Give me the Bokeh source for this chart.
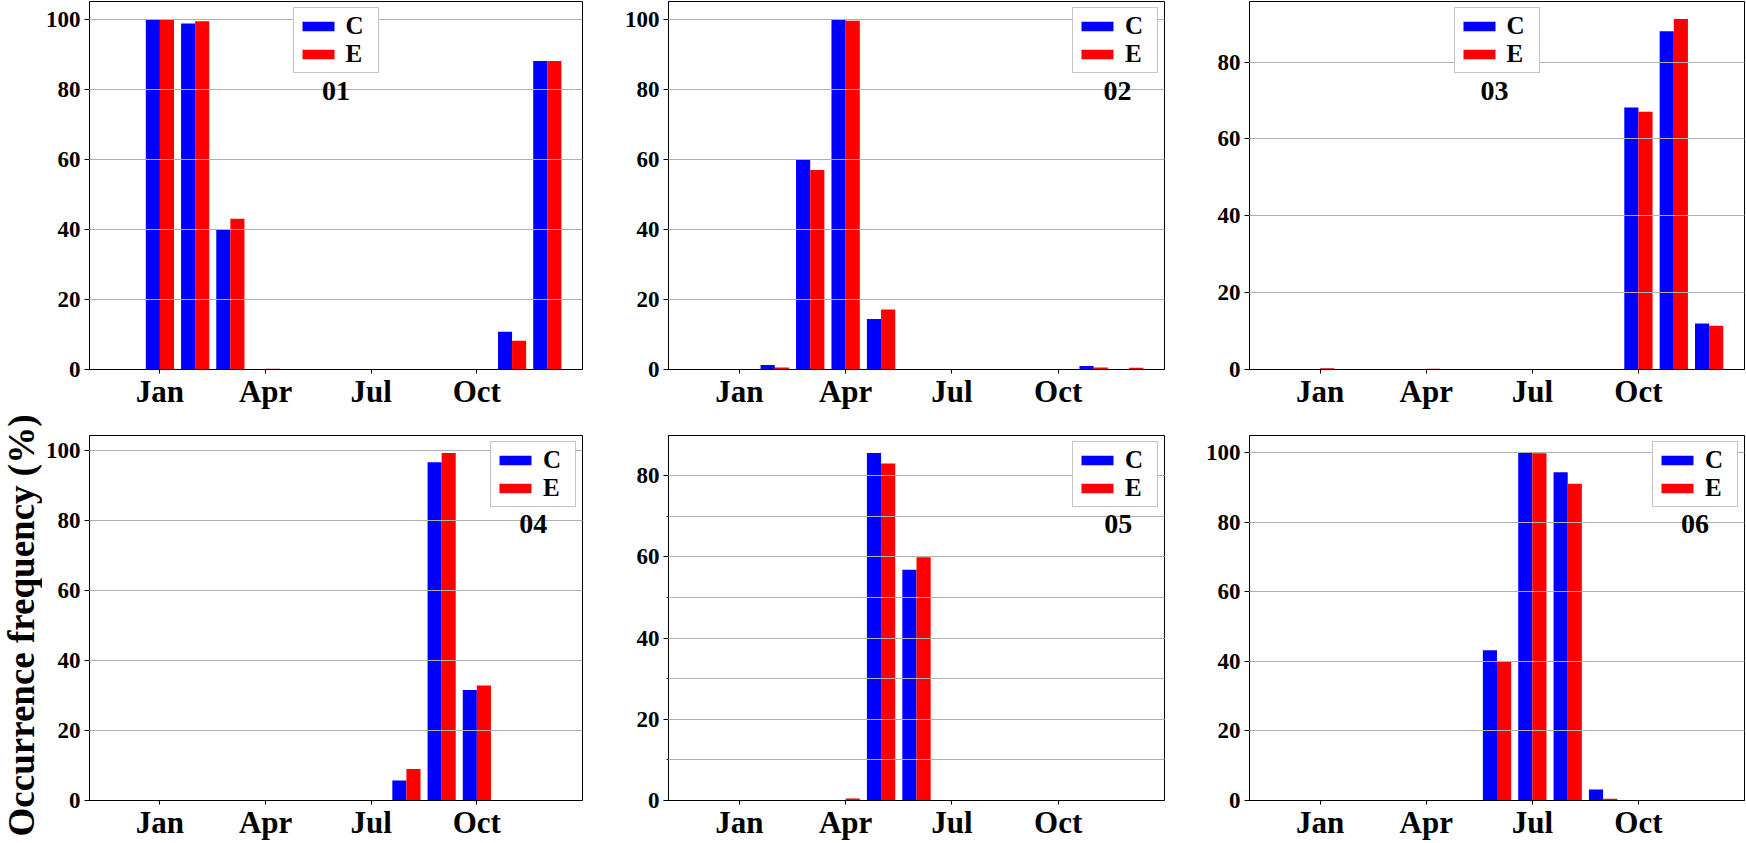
import math
from bokeh.plotting import figure
from bokeh.layouts import row, column
from bokeh.models import (Range1d, FixedTicker, SingleIntervalTicker, Label,
                          Legend, LegendItem, ColumnDataSource)
from bokeh.transform import dodge
from bokeh.embed import file_html
from bokeh.resources import INLINE

# ---------------- data ----------------
months = list(range(1, 13))
month_ticks = [1, 4, 7, 10]
month_tick_labels = ["Jan", "Apr", "Jul", "Oct"]
series_names = ["C", "E"]
series_colors = ["#0000ff", "#ff0000"]
panel_names = ["01", "02", "03", "04", "05", "06"]
y_title = "Occurrence frequency (%)"

c_01 = [100.0, 98.7, 40.0, 0, 0, 0, 0, 0, 0, 0, 10.8, 88.0]
e_01 = [99.8, 99.4, 43.0, 0.2, 0, 0, 0, 0, 0, 0, 8.2, 88.0]

c_02 = [0, 1.3, 59.8, 100.0, 14.4, 0, 0, 0, 0, 0, 1.0, 0]
e_02 = [0, 0.6, 56.9, 99.5, 17.1, 0, 0, 0, 0, 0, 0.6, 0.5]

c_03 = [0, 0, 0, 0, 0, 0, 0, 0, 0, 68.2, 88.0, 12.0]
e_03 = [0.3, 0, 0, 0.2, 0, 0, 0, 0, 0, 67.1, 91.2, 11.4]

c_04 = [0, 0, 0, 0, 0, 0, 0, 5.7, 96.7, 31.6, 0, 0]
e_04 = [0, 0, 0, 0, 0, 0, 0, 9.0, 99.4, 32.9, 0, 0]

c_05 = [0, 0, 0, 0.1, 85.6, 56.8, 0, 0, 0, 0.1, 0, 0]
e_05 = [0, 0, 0, 0.5, 83.0, 59.9, 0, 0, 0, 0, 0, 0]

c_06 = [0, 0, 0, 0, 0, 43.2, 100.0, 94.4, 3.2, 0, 0, 0]
e_06 = [0, 0, 0, 0, 0, 40.0, 99.9, 91.1, 0.5, 0, 0, 0]

panel_c = [c_01, c_02, c_03, c_04, c_05, c_06]
panel_e = [e_01, e_02, e_03, e_04, e_05, e_06]

# ---------------- layout / style ----------------
FONT = "Liberation Serif"
YLAB_W = 42
TOTAL_H = 842
col_w = [618 - YLAB_W, 581, 546]
col_bl = [87 - YLAB_W, 50, 50]
col_br = [36, 35, 1]
row_h = [433, 409]
row_bt = [1, 2]
row_bb = [64, 39]
legend_locs = ["top_center", "top_right", "top_center", "top_right", "top_right", "top_right"]
label_fx = [0.5, 0.905, 0.495, 0.9, 0.907, 0.9]
label_fy = 0.757
minor_grid = [False, False, False, False, True, False]
X0, X1 = -1, 13


def make_panel(i):
    r, c = divmod(i, 3)
    cv, ev = panel_c[i], panel_e[i]
    ytop = 1.05 * max(cv + ev)
    p = figure(width=col_w[c], height=row_h[r], output_backend="svg",
               toolbar_location=None,
               x_range=Range1d(X0, X1), y_range=Range1d(0, ytop),
               min_border_left=col_bl[c], min_border_right=col_br[c],
               min_border_top=row_bt[r], min_border_bottom=row_bb[r])
    src = ColumnDataSource(dict(month=months, C=cv, E=ev))
    r1 = p.vbar(x=dodge("month", -0.2), top="C", width=0.4, source=src,
                fill_color=series_colors[0], line_color=None)
    r2 = p.vbar(x=dodge("month", 0.2), top="E", width=0.4, source=src,
                fill_color=series_colors[1], line_color=None)

    p.outline_line_color = "black"
    p.outline_line_width = 1
    p.background_fill_color = "white"

    # x axis
    p.xaxis.ticker = FixedTicker(ticks=month_ticks)
    p.xaxis.major_label_overrides = {t: l for t, l in zip(month_ticks, month_tick_labels)}
    p.xaxis.major_label_text_font = FONT
    p.xaxis.major_label_text_font_style = "bold"
    p.xaxis.major_label_text_font_size = "31px"
    p.xaxis.major_label_text_color = "black"
    p.xaxis.major_tick_out = 4
    p.xaxis.major_tick_in = 0
    p.xaxis.minor_tick_line_color = None
    p.xaxis.major_label_standoff = 0
    p.xaxis.axis_line_color = "black"

    # y axis
    p.yaxis.ticker = SingleIntervalTicker(interval=20, num_minor_ticks=2 if minor_grid[i] else 0)
    p.yaxis.major_label_text_font = FONT
    p.yaxis.major_label_text_font_style = "bold"
    p.yaxis.major_label_text_font_size = "23px"
    p.yaxis.major_label_text_color = "black"
    p.yaxis.major_tick_out = 5
    p.yaxis.major_tick_in = 0
    p.yaxis.major_label_standoff = 4
    p.yaxis.axis_line_color = "black"
    if minor_grid[i]:
        p.yaxis.minor_tick_out = 2
        p.yaxis.minor_tick_in = 0
        p.ygrid.minor_grid_line_color = "#b0b0b0"
        p.ygrid.minor_grid_line_width = 1
    else:
        p.yaxis.minor_tick_line_color = None

    p.xgrid.visible = False
    p.ygrid.grid_line_color = "#b0b0b0"
    p.ygrid.grid_line_width = 1
    p.ygrid.level = "guide"

    legend = Legend(items=[LegendItem(label=series_names[0], renderers=[r1]),
                           LegendItem(label=series_names[1], renderers=[r2])],
                    location=legend_locs[i])
    legend.label_text_font = FONT
    legend.label_text_font_style = "bold"
    legend.label_text_font_size = "25px"
    legend.label_text_color = "black"
    legend.glyph_width = 40
    legend.glyph_height = 12
    legend.label_standoff = 8
    legend.label_width = 28
    legend.padding = 4
    legend.spacing = 0
    legend.margin = 6
    legend.border_line_color = "#8c8c8c"
    legend.border_line_width = 1
    legend.background_fill_alpha = 1.0
    p.add_layout(legend)

    lab = Label(x=X0 + label_fx[i] * (X1 - X0), y=label_fy * ytop,
                text=panel_names[i], text_align="center", text_baseline="middle",
                text_font=FONT, text_font_style="bold", text_font_size="28px",
                text_color="black")
    p.add_layout(lab)
    return p


panels = [make_panel(i) for i in range(6)]

# shared y-axis title in its own narrow canvas (pixel coordinates)
ylab_fig = figure(width=YLAB_W, height=TOTAL_H, output_backend="svg",
                  toolbar_location=None, x_axis_location=None, y_axis_location=None,
                  x_range=Range1d(0, YLAB_W), y_range=Range1d(0, TOTAL_H),
                  min_border_left=0, min_border_right=0, min_border_top=0,
                  min_border_bottom=0)
ylab_fig.outline_line_color = None
ylab_fig.grid.visible = False
ylab_fig.add_layout(Label(x=YLAB_W / 2, y=TOTAL_H - 625, text=y_title, angle=math.pi / 2,
                          text_align="center", text_baseline="middle",
                          text_font=FONT, text_font_style="bold",
                          text_font_size="37px", text_color="black"))

layout = row(ylab_fig, column(row(*panels[:3]), row(*panels[3:])))

open("out.html", "w").write(file_html(layout, INLINE))
